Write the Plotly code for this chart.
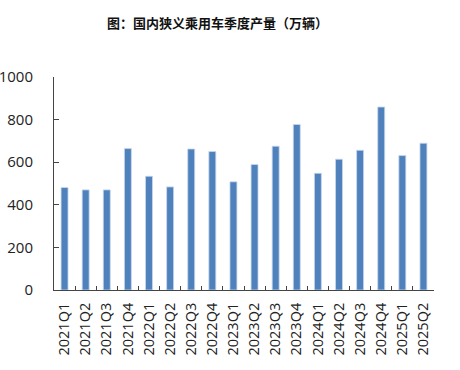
import plotly.graph_objects as go

quarters = ["2021Q1", "2021Q2", "2021Q3", "2021Q4", "2022Q1", "2022Q2", "2022Q3", "2022Q4",
            "2023Q1", "2023Q2", "2023Q3", "2023Q4", "2024Q1", "2024Q2", "2024Q3", "2024Q4",
            "2025Q1", "2025Q2"]
production = [481, 470, 470, 664, 534, 484, 662, 650, 508, 589, 675, 777, 548, 614, 656, 859, 631, 689]
y_ticks = [0, 200, 400, 600, 800, 1000]
title_text = "图：国内狭义乘用车季度产量（万辆）"

fig = go.Figure()
fig.add_trace(go.Bar(
    x=quarters, y=production,
    marker=dict(color="#4F81BD", line=dict(color="#C9D8EC", width=0.8)),
))
fig.update_layout(
    width=460, height=370,
    margin=dict(l=54, r=26, t=77, b=80),
    paper_bgcolor="white", plot_bgcolor="white",
    bargap=0.67,
    showlegend=False,
    font=dict(family="Open Sans, Noto Sans CJK SC", color="#222"),
    title=dict(text="<b>" + title_text + "</b>", x=0.473, xanchor="center", y=0.937, yanchor="middle",
               font=dict(family="Noto Sans CJK SC", size=13, color="#111")),
)
fig.update_xaxes(
    type="category", tickangle=-90, tickfont=dict(size=14.5, color="#222"),
    showline=True, linecolor="#444", linewidth=1,
    ticks="inside", ticklen=4, tickcolor="#444", tickson="boundaries",
    showgrid=False, automargin=False, ticklabelstandoff=6,
)
fig.update_yaxes(
    range=[0, 1000], tickvals=y_ticks, tickfont=dict(size=15, color="#222"),
    showline=True, linecolor="#444", linewidth=1,
    ticks="inside", ticklen=5, tickcolor="#444",
    showgrid=False, zeroline=False, ticklabelstandoff=17, automargin=False,
)
fig.write_html("out.html", config={"displayModeBar": False},
               post_script="document.body.style.margin='0';")
